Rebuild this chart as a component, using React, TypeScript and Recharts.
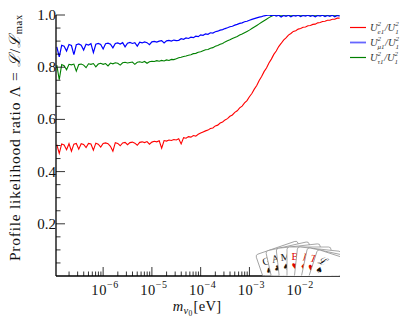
import React from 'react';
import { LineChart, Line, XAxis, YAxis, Legend } from 'recharts';

// log10 of the neutrino mass m_nu0 [eV]
const massExponent = [
  -6.95, -6.9, -6.85, -6.8, -6.75, -6.7, -6.65, -6.6, -6.55, -6.5,
  -6.45, -6.4, -6.35, -6.3, -6.25, -6.2, -6.15, -6.1, -6.05, -6,
  -5.95, -5.9, -5.85, -5.8, -5.75, -5.7, -5.65, -5.6, -5.55, -5.5,
  -5.45, -5.4, -5.35, -5.3, -5.25, -5.2, -5.15, -5.1, -5.05, -5,
  -4.95, -4.9, -4.85, -4.8, -4.75, -4.7, -4.65, -4.6, -4.55, -4.5,
  -4.45, -4.4, -4.35, -4.3, -4.25, -4.2, -4.15, -4.1, -4.05, -4,
  -3.95, -3.9, -3.85, -3.8, -3.75, -3.7, -3.65, -3.6, -3.55, -3.5,
  -3.45, -3.4, -3.35, -3.3, -3.25, -3.2, -3.15, -3.1, -3.05, -3,
  -2.95, -2.9, -2.85, -2.8, -2.75, -2.7, -2.65, -2.6, -2.55, -2.5,
  -2.45, -2.4, -2.35, -2.3, -2.25, -2.2, -2.15, -2.1, -2.05, -2,
  -1.95, -1.9, -1.85, -1.8, -1.75, -1.7, -1.65, -1.6, -1.55, -1.5,
  -1.45, -1.4, -1.35, -1.3, -1.25, -1.2, -1.15,
];

const ratioE1 = [
  0.503, 0.470, 0.506, 0.502, 0.484, 0.507, 0.478, 0.505, 0.508, 0.486,
  0.507, 0.504, 0.492, 0.508, 0.506, 0.482, 0.509, 0.505, 0.494, 0.508,
  0.510, 0.507, 0.497, 0.478, 0.511, 0.508, 0.499, 0.510, 0.512, 0.503,
  0.511, 0.513, 0.509, 0.501, 0.512, 0.514, 0.511, 0.515, 0.505, 0.513,
  0.516, 0.514, 0.518, 0.490, 0.519, 0.517, 0.521, 0.519, 0.523, 0.521,
  0.526, 0.506, 0.530, 0.528, 0.534, 0.532, 0.538, 0.536, 0.543, 0.548,
  0.552, 0.556, 0.559, 0.565, 0.567, 0.575, 0.578, 0.586, 0.590, 0.598,
  0.603, 0.612, 0.617, 0.627, 0.633, 0.644, 0.651, 0.663, 0.672, 0.687,
  0.699, 0.716, 0.730, 0.749, 0.764, 0.783, 0.797, 0.816, 0.831, 0.849,
  0.862, 0.879, 0.891, 0.904, 0.912, 0.923, 0.929, 0.937, 0.940, 0.946,
  0.948, 0.953, 0.954, 0.959, 0.960, 0.964, 0.965, 0.970, 0.971, 0.975,
  0.976, 0.980, 0.980, 0.984, 0.984, 0.988, 0.988,
];

const ratioMu1 = [
  0.878, 0.840, 0.884, 0.880, 0.862, 0.887, 0.883, 0.848, 0.886, 0.889,
  0.884, 0.866, 0.888, 0.885, 0.890, 0.856, 0.888, 0.891, 0.887, 0.870,
  0.890, 0.892, 0.888, 0.874, 0.891, 0.893, 0.889, 0.894, 0.878, 0.892,
  0.895, 0.891, 0.894, 0.881, 0.896, 0.893, 0.897, 0.894, 0.886, 0.897,
  0.899, 0.896, 0.900, 0.902, 0.893, 0.901, 0.903, 0.900, 0.904, 0.902,
  0.903, 0.909, 0.907, 0.912, 0.910, 0.915, 0.913, 0.919, 0.917, 0.924,
  0.922, 0.928, 0.926, 0.932, 0.931, 0.936, 0.938, 0.942, 0.944, 0.948,
  0.951, 0.955, 0.957, 0.961, 0.964, 0.968, 0.970, 0.974, 0.976, 0.980,
  0.983, 0.986, 0.989, 0.992, 0.994, 0.997, 0.998, 1.000, 0.998, 1.000,
  0.996, 0.999, 0.992, 0.998, 0.995, 0.999, 0.993, 0.998, 0.996, 0.999,
  0.994, 0.998, 0.996, 0.999, 0.995, 0.998, 0.993, 0.998, 0.996, 0.999,
  0.994, 0.998, 0.995, 0.999, 0.993, 0.998, 0.996,
];

const ratioTau1 = [
  0.808, 0.752, 0.810, 0.806, 0.790, 0.811, 0.809, 0.812, 0.785, 0.810,
  0.812, 0.808, 0.798, 0.813, 0.811, 0.814, 0.801, 0.812, 0.815, 0.811,
  0.814, 0.805, 0.816, 0.813, 0.817, 0.815, 0.808, 0.817, 0.819, 0.816,
  0.818, 0.820, 0.811, 0.819, 0.821, 0.818, 0.822, 0.815, 0.821, 0.823,
  0.822, 0.825, 0.823, 0.826, 0.824, 0.828, 0.826, 0.830, 0.829, 0.832,
  0.836, 0.838, 0.841, 0.843, 0.846, 0.848, 0.852, 0.853, 0.857, 0.859,
  0.863, 0.867, 0.868, 0.873, 0.875, 0.880, 0.883, 0.888, 0.891, 0.897,
  0.901, 0.905, 0.910, 0.914, 0.918, 0.923, 0.927, 0.932, 0.937, 0.942,
  0.948, 0.954, 0.960, 0.966, 0.972, 0.978, 0.984, 0.990, 0.995, 0.999,
  1.000, 0.998, 1.000, 0.999, 1.000, 0.998, 1.000, 0.999, 1.000, 0.998,
  1.000, 0.999, 1.000, 0.998, 1.000, 0.999, 1.000, 0.998, 1.000, 0.999,
  1.000, 0.998, 1.000, 0.999, 1.000, 0.998, 1.000,
];

const xMajorTicks = [1e-6, 1e-5, 1e-4, 1e-3, 1e-2];
const xMajorExpLabels = ['\u22126', '\u22125', '\u22124', '\u22123', '\u22122'];
const xMinorTicks = [
  2e-7, 3e-7, 4e-7, 5e-7, 6e-7, 7e-7, 8e-7, 9e-7,
  2e-6, 3e-6, 4e-6, 5e-6, 6e-6, 7e-6, 8e-6, 9e-6,
  2e-5, 3e-5, 4e-5, 5e-5, 6e-5, 7e-5, 8e-5, 9e-5,
  2e-4, 3e-4, 4e-4, 5e-4, 6e-4, 7e-4, 8e-4, 9e-4,
  2e-3, 3e-3, 4e-3, 5e-3, 6e-3, 7e-3, 8e-3, 9e-3,
  2e-2, 3e-2, 4e-2, 5e-2, 6e-2, 7e-2,
];
const xDomain = [1.08e-7, 0.072];

const yMajorTicks = [0.2, 0.4, 0.6, 0.8, 1.0];
const yMajorLabels = ['0.2', '0.4', '0.6', '0.8', '1.0'];
const yMinorTicks = [0.05, 0.1, 0.15, 0.25, 0.3, 0.35, 0.45, 0.5, 0.55, 0.65, 0.7, 0.75, 0.85, 0.9, 0.95];

const seriesKeys = ['e1', 'mu1', 'tau1'];
const seriesColors = ['#ff0000', '#0000ff', '#008000'];
const legendSubscripts = ['e1', '\u03bc1', '\u03c41'];

const cardLetters = ['G', 'A', 'M', 'B', 'I', 'T', '\u2112'];
const cardSuits = ['\u2660', '\u2663', '\u2660', '\u2665', '\u2666', '\u2665', '\u2660'];
const cardRed = [false, false, false, true, true, true, false];
const cardAngles = [-19, -12.7, -6.4, 0, 6.2, 12, 18];

const data = massExponent.map((e, i) => ({
  m: Math.pow(10, e),
  e1: ratioE1[i],
  mu1: ratioMu1[i],
  tau1: ratioTau1[i],
}));

const xAllTicks = [...xMinorTicks, ...xMajorTicks].sort((a, b) => a - b);
const yAllTicks = [...yMinorTicks, ...yMajorTicks].sort((a, b) => a - b);

const SERIF = '"Liberation Serif", "DejaVu Serif", serif';
const MAJOR = 9;
const MINOR = 4.5;
const TICK_W = 0.8;

const xMajorIndex = (v: number) =>
  xMajorTicks.findIndex((t) => Math.abs(Math.log10(t) - Math.log10(v)) < 1e-6);
const yMajorIndex = (v: number) => yMajorTicks.findIndex((t) => Math.abs(t - v) < 1e-6);

const XBottomTick = (props: any) => {
  const { x, y, payload } = props;
  const idx = xMajorIndex(payload.value);
  const len = idx >= 0 ? MAJOR : MINOR;
  return (
    <g>
      <line x1={x} x2={x} y1={y} y2={y - len} stroke="#000" strokeWidth={TICK_W} />
      {idx >= 0 && (
        <text x={x + 2} y={y + 19} textAnchor="middle" fontFamily={SERIF} fontSize={14.5} fill="#111" letterSpacing={0.6}>
          <tspan>10</tspan>
          <tspan dy={-7} fontSize={10}>{xMajorExpLabels[idx]}</tspan>
        </text>
      )}
    </g>
  );
};

const XTopTick = (props: any) => {
  const { x, y, payload } = props;
  const idx = xMajorIndex(payload.value);
  const len = idx >= 0 ? MAJOR : MINOR;
  return <line x1={x} x2={x} y1={y} y2={y + len} stroke="#000" strokeWidth={TICK_W} />;
};

const YLeftTick = (props: any) => {
  const { x, y, payload } = props;
  const idx = yMajorIndex(payload.value);
  const len = idx >= 0 ? MAJOR : MINOR;
  return (
    <g>
      <line x1={x} x2={x + len} y1={y} y2={y} stroke="#000" strokeWidth={TICK_W} />
      {idx >= 0 && (
        <text x={x} y={y + 5} textAnchor="end" fontFamily={SERIF} fontSize={15} fill="#111">
          {yMajorLabels[idx]}
        </text>
      )}
    </g>
  );
};

const YRightTick = (props: any) => {
  const { x, y, payload } = props;
  const idx = yMajorIndex(payload.value);
  const len = idx >= 0 ? MAJOR : MINOR;
  return <line x1={x} x2={x - len} y1={y} y2={y} stroke="#000" strokeWidth={TICK_W} />;
};

const YTitle = (props: any) => {
  const vb = props.viewBox || { x: 6, y: 15, width: 50, height: 261 };
  const cx = 14;
  const cy = vb.y + vb.height / 2 - 8;
  return (
    <text
      transform={`translate(${cx},${cy}) rotate(-90)`}
      textAnchor="middle"
      dominantBaseline="central"
      fontFamily={SERIF}
      fontSize={15.5}
      letterSpacing={0.75}
      fill="#111"
    >
      <tspan>Profile likelihood ratio {'\u039b'} = </tspan>
      <tspan fontStyle="italic">{'\u2112'}</tspan>
      <tspan>/</tspan>
      <tspan fontStyle="italic">{'\u2112'}</tspan>
      <tspan fontSize={10.5} dy={4}>max</tspan>
    </text>
  );
};

const XTitle = (props: any) => {
  const vb = props.viewBox || { x: 56, y: 276, width: 284, height: 45 };
  const cx = vb.x + vb.width / 2 - 1;
  return (
    <text x={cx} y={vb.y + 35} textAnchor="middle" fontFamily={SERIF} fontSize={14.5} fill="#111" letterSpacing={0.3}>
      <tspan fontStyle="italic">m</tspan>
      <tspan fontStyle="italic" fontSize={10.5} dy={3}>{'\u03bd'}</tspan>
      <tspan fontSize={7.5} dy={2}>0</tspan>
      <tspan dy={-5} dx={1}>[eV]</tspan>
    </text>
  );
};

const TopLabel = (props: any) => {
  const vb = props.viewBox || { x: 56, y: 15, width: 284, height: 0 };
  return (
    <text
      x={vb.x + vb.width}
      y={vb.y - 3}
      textAnchor="end"
      fontFamily='"DejaVu Sans", sans-serif'
      fontSize={7}
      fill="#333"
    >
      GAMBIT 1.4.0
    </text>
  );
};

const LegendBox = () => (
  <svg width={59} height={46} style={{ display: 'block' }}>
    {seriesKeys.map((k, i) => {
      const cy = 7.5 + i * 15;
      return (
        <g key={k}>
          <line
            x1={2}
            x2={18}
            y1={cy}
            y2={cy}
            stroke={seriesColors[i]}
            strokeWidth={i === 1 ? 1.8 : 1.2}
            strokeOpacity={i === 1 ? 0.6 : 1}
          />
          <text x={22} y={cy + 3} fontFamily={SERIF} fontStyle="italic" fontSize={10.5} fill="#333">
            U
            <tspan fontSize={7} dy={-4.5}>2</tspan>
            <tspan fontSize={7} dx={-3.5} dy={7.5}>{legendSubscripts[i]}</tspan>
            <tspan dy={-3} dx={0.5}>/U</tspan>
            <tspan fontSize={7} dy={-4.5}>2</tspan>
            <tspan fontSize={7} dx={-3.5} dy={7.5}>1</tspan>
          </text>
        </g>
      );
    })}
  </svg>
);

const CardsLogo = () => {
  const px = 295;
  const py = 345;
  return (
    <svg width={407} height={330} style={{ position: 'absolute', left: 0, top: 0, pointerEvents: 'none' }}>
      <defs>
        <clipPath id="plotClip">
          <rect x={56} y={15} width={284} height={260.5} />
        </clipPath>
      </defs>
      <g clipPath="url(#plotClip)">
        {cardLetters.map((letter, i) => (
          <g key={i} transform={`translate(${px},${py}) rotate(${cardAngles[i]})`}>
            <rect x={-8} y={-98} width={44} height={110} rx={2.5} fill="#fff" stroke="#888" strokeWidth={0.7} />
            <text
              x={0}
              y={-85}
              textAnchor="middle"
              fontFamily={SERIF}
              fontSize={10.5}
              fontStyle={i >= 4 ? 'italic' : 'normal'}
              fill={cardRed[i] ? '#e00000' : '#111'}
            >
              {letter}
            </text>
            <text
              x={0}
              y={-76}
              textAnchor="middle"
              fontFamily='"DejaVu Sans", sans-serif'
              fontSize={8}
              fill={cardRed[i] ? '#e00000' : '#111'}
            >
              {cardSuits[i]}
            </text>
          </g>
        ))}
      </g>
    </svg>
  );
};

export default function App() {
  return (
    <div style={{ position: 'absolute', left: 0, top: 0, width: 407, height: 330, background: '#fff' }}>
      <LineChart width={407} height={330} data={data} margin={{ top: 15, right: 67, bottom: 9, left: 6 }}>
        <XAxis
          xAxisId="b"
          dataKey="m"
          type="number"
          scale="log"
          domain={xDomain}
          allowDataOverflow
          ticks={xAllTicks}
          interval={0}
          tickSize={0}
          tickMargin={0}
          tickLine={false}
          tick={<XBottomTick />}
          axisLine={{ stroke: '#000', strokeWidth: 1.3 }}
          height={45}
          label={(p: any) => <XTitle {...p} />}
        />
        <XAxis
          xAxisId="t"
          orientation="top"
          dataKey="m"
          type="number"
          scale="log"
          domain={xDomain}
          allowDataOverflow
          ticks={xAllTicks}
          interval={0}
          tickSize={0}
          tickMargin={0}
          tickLine={false}
          tick={<XTopTick />}
          axisLine={{ stroke: '#000', strokeWidth: 1.3 }}
          height={0}
          label={(p: any) => <TopLabel {...p} />}
        />
        <YAxis
          yAxisId="l"
          type="number"
          domain={[0, 1]}
          allowDataOverflow
          ticks={yAllTicks}
          interval={0}
          tickSize={0}
          tickMargin={0}
          tickLine={false}
          tick={<YLeftTick />}
          axisLine={{ stroke: '#000', strokeWidth: 1.3 }}
          width={50}
          label={(p: any) => <YTitle {...p} />}
        />
        <YAxis
          yAxisId="r"
          orientation="right"
          type="number"
          domain={[0, 1]}
          allowDataOverflow
          ticks={yAllTicks}
          interval={0}
          tickSize={0}
          tickMargin={0}
          tickLine={false}
          tick={<YRightTick />}
          axisLine={{ stroke: '#000', strokeWidth: 1.3 }}
          width={0}
        />
        <Line xAxisId="b" yAxisId="l" type="linear" dataKey="e1" stroke={seriesColors[0]} strokeWidth={1.1} dot={false} isAnimationActive={false} />
        <Line xAxisId="b" yAxisId="l" type="linear" dataKey="tau1" stroke={seriesColors[2]} strokeWidth={1.1} dot={false} isAnimationActive={false} />
        <Line xAxisId="b" yAxisId="l" type="linear" dataKey="mu1" stroke={seriesColors[1]} strokeWidth={1.2} dot={false} isAnimationActive={false} />
        <Legend
          layout="vertical"
          align="center"
          verticalAlign="middle"
          wrapperStyle={{ left: 348, top: 20, width: 59, height: 46 }}
          content={() => <LegendBox />}
        />
      </LineChart>
      <CardsLogo />
    </div>
  );
}
